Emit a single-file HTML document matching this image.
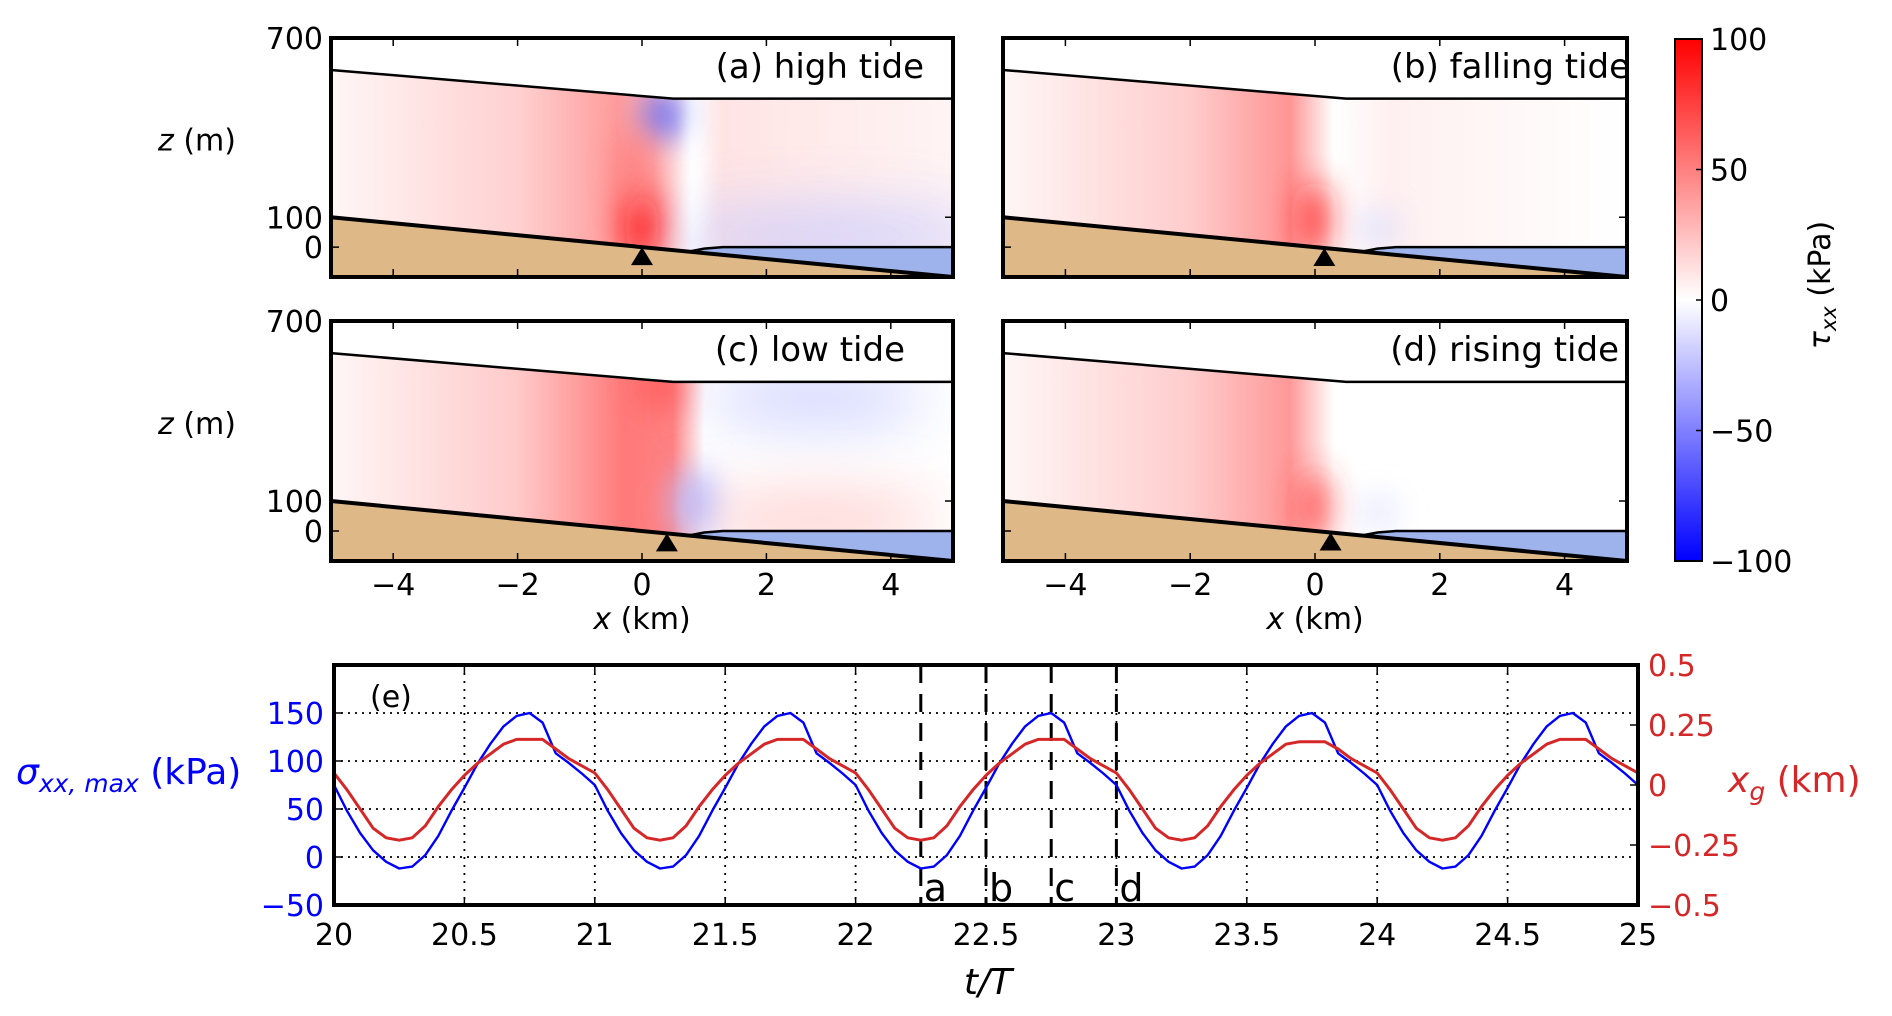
<!DOCTYPE html>
<html><head><meta charset="utf-8">
<style>
html,body{margin:0;padding:0;background:#fff;}
#root{position:relative;width:1892px;height:1016px;overflow:hidden;font-family:"DejaVu Sans","Liberation Sans",sans-serif;}
svg{position:absolute;left:0;top:0;}
</style></head>
<body>
<div id="root">
<svg id="fig" width="1892" height="1016" viewBox="0 0 1892 1016" xmlns="http://www.w3.org/2000/svg">
<defs>
<linearGradient id="cbar" x1="0" y1="0" x2="0" y2="1">
<stop offset="0" stop-color="#ff0000"/><stop offset="0.5" stop-color="#ffffff"/><stop offset="1" stop-color="#0000ff"/>
</linearGradient>
<filter id="b8" filterUnits="userSpaceOnUse" x="0" y="0" width="1892" height="1016"><feGaussianBlur stdDeviation="8"/></filter>
<filter id="b16" filterUnits="userSpaceOnUse" x="0" y="0" width="1892" height="1016"><feGaussianBlur stdDeviation="16"/></filter>
<filter id="b30" filterUnits="userSpaceOnUse" x="0" y="0" width="1892" height="1016"><feGaussianBlur stdDeviation="30"/></filter>
</defs>
</svg>
</div>
<script>
// ---- time-series data (panel e) ----
const tValues = [20.00,20.05,20.10,20.15,20.20,20.25,20.30,20.35,20.40,20.45,20.50,20.55,20.60,20.65,20.70,20.75,20.80,20.85,20.90,20.95,
21.00,21.05,21.10,21.15,21.20,21.25,21.30,21.35,21.40,21.45,21.50,21.55,21.60,21.65,21.70,21.75,21.80,21.85,21.90,21.95,
22.00,22.05,22.10,22.15,22.20,22.25,22.30,22.35,22.40,22.45,22.50,22.55,22.60,22.65,22.70,22.75,22.80,22.85,22.90,22.95,
23.00,23.05,23.10,23.15,23.20,23.25,23.30,23.35,23.40,23.45,23.50,23.55,23.60,23.65,23.70,23.75,23.80,23.85,23.90,23.95,
24.00,24.05,24.10,24.15,24.20,24.25,24.30,24.35,24.40,24.45,24.50,24.55,24.60,24.65,24.70,24.75,24.80,24.85,24.90,24.95,25.00];
const sigmaMax = [75,48,25,7,-5,-12,-10,2,22,48,72,97,118,136,147,150,140,108,98,87,
75,48,25,7,-5,-12,-10,2,22,48,72,97,118,136,147,150,140,108,98,87,
75,48,25,7,-5,-12,-10,2,22,48,72,97,118,136,147,150,140,108,98,87,
75,48,25,7,-5,-12,-10,2,22,48,72,97,118,136,147,150,140,108,98,87,
75,48,25,7,-5,-12,-10,2,22,48,72,97,118,136,147,150,140,108,98,87,75];
const xgKm = [0.05,-0.02,-0.10,-0.18,-0.22,-0.23,-0.22,-0.17,-0.09,-0.02,0.04,0.09,0.13,0.17,0.19,0.19,0.19,0.15,0.11,0.08,
0.05,-0.02,-0.10,-0.18,-0.22,-0.23,-0.22,-0.17,-0.09,-0.02,0.04,0.09,0.13,0.17,0.19,0.19,0.19,0.15,0.11,0.08,
0.05,-0.02,-0.10,-0.18,-0.22,-0.23,-0.22,-0.17,-0.09,-0.02,0.04,0.09,0.13,0.17,0.19,0.19,0.19,0.15,0.11,0.08,
0.05,-0.02,-0.10,-0.18,-0.22,-0.23,-0.22,-0.17,-0.09,-0.02,0.04,0.09,0.13,0.17,0.18,0.18,0.18,0.15,0.11,0.08,
0.05,-0.02,-0.10,-0.18,-0.22,-0.23,-0.22,-0.17,-0.09,-0.02,0.04,0.09,0.13,0.17,0.19,0.19,0.19,0.15,0.11,0.08,0.05];
const tTicks = [20,20.5,21,21.5,22,22.5,23,23.5,24,24.5,25];
const tTickLabels = ["20","20.5","21","21.5","22","22.5","23","23.5","24","24.5","25"];
const sigmaTicks = [-50,0,50,100,150];
const xgTicks = [-0.5,-0.25,0,0.25,0.5];
const xgTickLabels = ["\u22120.5","\u22120.25","0","0.25","0.5"];
const snapshotTimes = [22.25,22.5,22.75,23.0];
const snapshotLetters = ["a","b","c","d"];
// ---- geometry data (panels a-d) ----
const panelTitles = ["(a) high tide","(b) falling tide","(c) low tide","(d) rising tide"];
const markerX = [0.0,0.15,0.4,0.25];
const surfaceX = [-5,0.5,5];
const surfaceZ = [593,497,497];
const bedX = [-5,5];
const bedZ = [100,-100];
const shelfBaseX = [0.75,1.0,1.3,5];
const shelfBaseZ = [-15,-5,0,0];
const xTicks = [-4,-2,0,2,4];
const zTicks = [0,100,700];
const cbarTicks = [100,50,0,-50,-100];

const NS="http://www.w3.org/2000/svg";
const svg=document.getElementById('fig');
function el(tag,attrs,parent){const e=document.createElementNS(NS,tag);for(const k in attrs)e.setAttribute(k,attrs[k]);(parent||svg).appendChild(e);return e;}
function txt(s,attrs,parent){const e=el('text',attrs,parent);e.textContent=s;return e;}

const panels=[{x0:331,x1:953,y0:38,y1:277},{x0:1003,x1:1627,y0:38,y1:277},{x0:331,x1:953,y0:321,y1:561},{x0:1003,x1:1627,y0:321,y1:561}];
const looks=[
 {stops:[[-5,'#fff6f6'],[-2,'#ffd0d0'],[-0.4,'#ff9c9c'],[0.2,'#ffb4b4'],[0.8,'#ffffff'],[1.3,'#ffe4e4'],[5,'#fff4f4']],
  blobs:[[0.35,440,0.3,80,'#5565ff',16,1],[0.0,70,0.28,120,'#ff0808',16,1],[-0.1,250,0.25,150,'#ff7070',16,0.8],[3.0,40,2.6,80,'#c4c8ff',30,0.9],[0.85,300,0.08,260,'#ffffff',8,0.9]]},
 {stops:[[-5,'#fff6f6'],[-2,'#ffcccc'],[-0.4,'#ff9494'],[0.3,'#ffffff'],[1.2,'#fff0f0'],[5,'#ffffff']],
  blobs:[[0.0,90,0.22,130,'#ff1818',16,0.9],[1.0,60,0.35,60,'#d8dcff',16,0.8]]},
 {stops:[[-5,'#fff6f6'],[-2,'#ffcaca'],[-0.3,'#ff7a7a'],[0.5,'#ff8080'],[1.0,'#ffffff'],[5,'#ffffff']],
  blobs:[[0.85,90,0.35,120,'#b4b8ff',16,1],[2.8,440,1.8,90,'#d0d4ff',30,1],[2.8,40,2.0,70,'#ffc4c4',30,1],[0.3,480,0.35,80,'#ff5050',16,0.7]]},
 {stops:[[-5,'#fff6f6'],[-2,'#ffcccc'],[-0.4,'#ff9898'],[0.3,'#ffffff'],[5,'#ffffff']],
  blobs:[[0.0,80,0.22,120,'#ff3030',16,0.85],[1.0,60,0.3,60,'#dde0ff',16,0.8]]}
];

panels.forEach((p,i)=>{
  const g=el('g',{});
  
  
  const sx=x=>p.x0+(x+5)/10*(p.x1-p.x0);
  const sz=z=>p.y1-(z+100)/800*(p.y1-p.y0);
  let ice=[];
  surfaceX.forEach((x,k)=>ice.push([sx(x),sz(surfaceZ[k])]));
  for(let k=shelfBaseX.length-1;k>=0;k--)ice.push([sx(shelfBaseX[k]),sz(shelfBaseZ[k])]);
  const bz=x=>bedZ[0]+(x-bedX[0])/(bedX[1]-bedX[0])*(bedZ[1]-bedZ[0]);
  ice.push([sx(bedX[0]),sz(bz(bedX[0]))]);
  const cid='clip'+i;
  const cp=el('clipPath',{id:cid},svg.querySelector('defs'));
  el('polygon',{points:ice.map(q=>q.join(',')).join(' ')},cp);
  const gid='grad'+i;
  const lg=el('linearGradient',{id:gid,x1:sx(-5),x2:sx(5),y1:0,y2:0,gradientUnits:'userSpaceOnUse'},svg.querySelector('defs'));
  looks[i].stops.forEach(s=>el('stop',{offset:((s[0]+5)/10).toFixed(3),'stop-color':s[1]},lg));
  const hm=el('g',{'clip-path':'url(#'+cid+')'},g);
  
  
  el('rect',{x:p.x0,y:p.y0,width:p.x1-p.x0,height:p.y1-p.y0,fill:'url(#'+gid+')'},hm);
  looks[i].blobs.forEach(b=>{
    el('ellipse',{cx:sx(b[0]),cy:sz(b[1]),rx:b[2]/10*(p.x1-p.x0),ry:b[3]/800*(p.y1-p.y0),fill:b[4],opacity:b[6],filter:'url(#b'+b[5]+')'},hm);
  });
  let oc=[];
  shelfBaseX.forEach((x,k)=>oc.push([sx(x),sz(shelfBaseZ[k])]));
  oc.push([sx(5),sz(bz(5))]);
  const ocean=el('polygon',{points:oc.map(q=>q.join(',')).join(' '),fill:'#9eb3ec'},g);
  
  
  const bed=el('polygon',{points:[sx(-5),sz(bz(-5)),sx(5),sz(bz(5)),sx(-5),sz(-100)].join(' '),fill:'#deb887'},g);
  
  
  const sl=el('polyline',{points:surfaceX.map((x,k)=>sx(x)+','+sz(surfaceZ[k])).join(' '),fill:'none',stroke:'#000','stroke-width':2.5},g);
  
  
  const bl=el('polyline',{points:shelfBaseX.map((x,k)=>sx(x)+','+sz(shelfBaseZ[k])).join(' '),fill:'none',stroke:'#000','stroke-width':2.5},g);
  
  
  const bdl=el('line',{x1:sx(-5),y1:sz(bz(-5)),x2:sx(5),y2:sz(bz(5)),stroke:'#000','stroke-width':4},g);
  
  
  const mx=sx(markerX[i]),my=sz(bz(markerX[i]));
  const tri=el('polygon',{points:[mx,my,mx-11,my+18,mx+11,my+18].join(' '),fill:'#000'},g);
  
  
  const fr=el('rect',{x:p.x0,y:p.y0,width:p.x1-p.x0,height:p.y1-p.y0,fill:'none',stroke:'#000','stroke-width':4},g);
  
  
  xTicks.forEach(t=>{el('line',{x1:sx(t),x2:sx(t),y1:p.y1,y2:p.y1-8,stroke:'#000','stroke-width':1.5},g);el('line',{x1:sx(t),x2:sx(t),y1:p.y0,y2:p.y0+8,stroke:'#000','stroke-width':1.5},g);});
  zTicks.forEach(t=>{el('line',{x1:p.x0,x2:p.x0+8,y1:sz(t),y2:sz(t),stroke:'#000','stroke-width':1.5},g);el('line',{x1:p.x1,x2:p.x1-8,y1:sz(t),y2:sz(t),stroke:'#000','stroke-width':1.5},g);});
  if(i%2===0){
    zTicks.forEach(t=>{const tl=txt(String(t),{x:p.x0-8,y:sz(t)+11,'text-anchor':'end','font-size':30},g);
      });
    const yl=txt('',{x:197,y:(p.y0+p.y1)/2-7,'text-anchor':'middle','font-size':30},g);
    
    const ts=el('tspan',{'font-style':'italic'},yl);ts.textContent='z';
    const ts2=el('tspan',{},yl);ts2.textContent=' (m)';
  }
  if(i>=2){
    xTicks.forEach(t=>{const tl=txt(t<0?'\u2212'+(-t):String(t),{x:sx(t),y:p.y1+34,'text-anchor':'middle','font-size':30},g);
      });
    const xl=txt('',{x:(p.x0+p.x1)/2,y:p.y1+68,'text-anchor':'middle','font-size':30},g);
    
    const a=el('tspan',{'font-style':'italic'},xl);a.textContent='x';
    const b=el('tspan',{},xl);b.textContent=' (km)';
  }
  const rightEdges=[924,1630,905,1619];
  const ttl=txt(panelTitles[i],{x:rightEdges[i],y:p.y0+40,'text-anchor':'end','font-size':34},g);
  
  
});

(function(){
  const g=el('g',{});
  
  
  const x0=1675,x1=1702,y0=39,y1=561;
  el('rect',{x:x0,y:y0,width:x1-x0,height:y1-y0,fill:'url(#cbar)',stroke:'#000','stroke-width':2},g);
  const cy=v=>y0+(100-v)/200*(y1-y0);
  cbarTicks.forEach(v=>{
    el('line',{x1:x1,x2:x1-6,y1:cy(v),y2:cy(v),stroke:'#000','stroke-width':1.5},g);
    const t=txt(v<0?'\u2212'+(-v):String(v),{x:x1+8,y:cy(v)+11,'font-size':30},g);
    
    
  });
  const lab=txt('',{x:0,y:0,'font-size':30,'text-anchor':'middle',transform:'translate(1830,285) rotate(-90)'},g);
  
  
  const a=el('tspan',{'font-style':'italic'},lab);a.textContent='\u03c4';
  const b=el('tspan',{'font-style':'italic','font-size':21,dy:6},lab);b.textContent='xx';
  const c=el('tspan',{dy:-6},lab);c.textContent=' (kPa)';
})();

(function(){
  const X0=334,X1=1638,Y0=665,Y1=905;
  const g=el('g',{});
  
  
  const tx=t=>X0+(t-20)/5*(X1-X0);
  const sy=v=>Y1-(v+50)/250*(Y1-Y0);
  const ry=v=>Y1-(v+0.5)/1.0*(Y1-Y0);
  tTicks.forEach(t=>{if(t>20&&t<25){const l=el('line',{x1:tx(t),x2:tx(t),y1:Y0,y2:Y1,stroke:'#000','stroke-width':1.8,'stroke-dasharray':'2,6'},g);
    }});
  [0,50,100,150].forEach(v=>{const l=el('line',{x1:X0,x2:X1,y1:sy(v),y2:sy(v),stroke:'#000','stroke-width':1.8,'stroke-dasharray':'2,5'},g);
    });
  snapshotTimes.forEach((t,k)=>{
    const l=el('line',{x1:tx(t),x2:tx(t),y1:Y0,y2:Y1,stroke:'#000','stroke-width':3,'stroke-dasharray':'18,11'},g);
    
    
    const s=txt(snapshotLetters[k],{x:tx(t)+3,y:Y1-4,'font-size':38},g);
    
    
  });
  const bp=el('polyline',{points:tValues.map((t,k)=>tx(t).toFixed(1)+','+sy(sigmaMax[k]).toFixed(1)).join(' '),fill:'none',stroke:'#0000ff','stroke-width':2.4,'stroke-linejoin':'round'},g);
  
  
  const rp=el('polyline',{points:tValues.map((t,k)=>tx(t).toFixed(1)+','+ry(xgKm[k]).toFixed(1)).join(' '),fill:'none',stroke:'#d62728','stroke-width':3,'stroke-linejoin':'round'},g);
  
  
  el('rect',{x:X0,y:Y0,width:X1-X0,height:Y1-Y0,fill:'none',stroke:'#000','stroke-width':4},g);
  tTicks.forEach((t,k)=>{
    el('line',{x1:tx(t),x2:tx(t),y1:Y1,y2:Y1-8,stroke:'#000','stroke-width':1.5},g);
    el('line',{x1:tx(t),x2:tx(t),y1:Y0,y2:Y0+8,stroke:'#000','stroke-width':1.5},g);
    const l=txt(tTickLabels[k],{x:tx(t),y:Y1+40,'text-anchor':'middle','font-size':30},g);
    
  });
  sigmaTicks.forEach(v=>{
    el('line',{x1:X0,x2:X0+8,y1:sy(v),y2:sy(v),stroke:'#000','stroke-width':1.5},g);
    const l=txt(v<0?'\u2212'+(-v):String(v),{x:X0-10,y:sy(v)+11,'text-anchor':'end','font-size':30,fill:'#0000ff'},g);
    
  });
  xgTicks.forEach((v,k)=>{
    el('line',{x1:X1,x2:X1-8,y1:ry(v),y2:ry(v),stroke:'#000','stroke-width':1.5},g);
    const l=txt(xgTickLabels[k],{x:X1+10,y:ry(v)+11,'font-size':30,fill:'#d62728'},g);
    
  });
  const pl=txt('(e)',{x:370,y:707,'font-size':30},g);
  
  const xl=txt('t/T',{x:988,y:994,'text-anchor':'middle','font-size':36,'font-style':'italic'},g);
  
  const yl=txt('',{x:16,y:784,'font-size':36,fill:'#0000ff'},g);
  
  let a=el('tspan',{'font-style':'italic'},yl);a.textContent='\u03c3';
  a=el('tspan',{'font-style':'italic','font-size':25,dy:8},yl);a.textContent='xx, max';
  a=el('tspan',{dy:-8},yl);a.textContent=' (kPa)';
  const rl=txt('',{x:1728,y:792,'font-size':36,fill:'#d62728'},g);
  
  a=el('tspan',{'font-style':'italic'},rl);a.textContent='x';
  a=el('tspan',{'font-style':'italic','font-size':25,dy:8},rl);a.textContent='g';
  a=el('tspan',{dy:-8},rl);a.textContent=' (km)';
})();
</script>
</body></html>
